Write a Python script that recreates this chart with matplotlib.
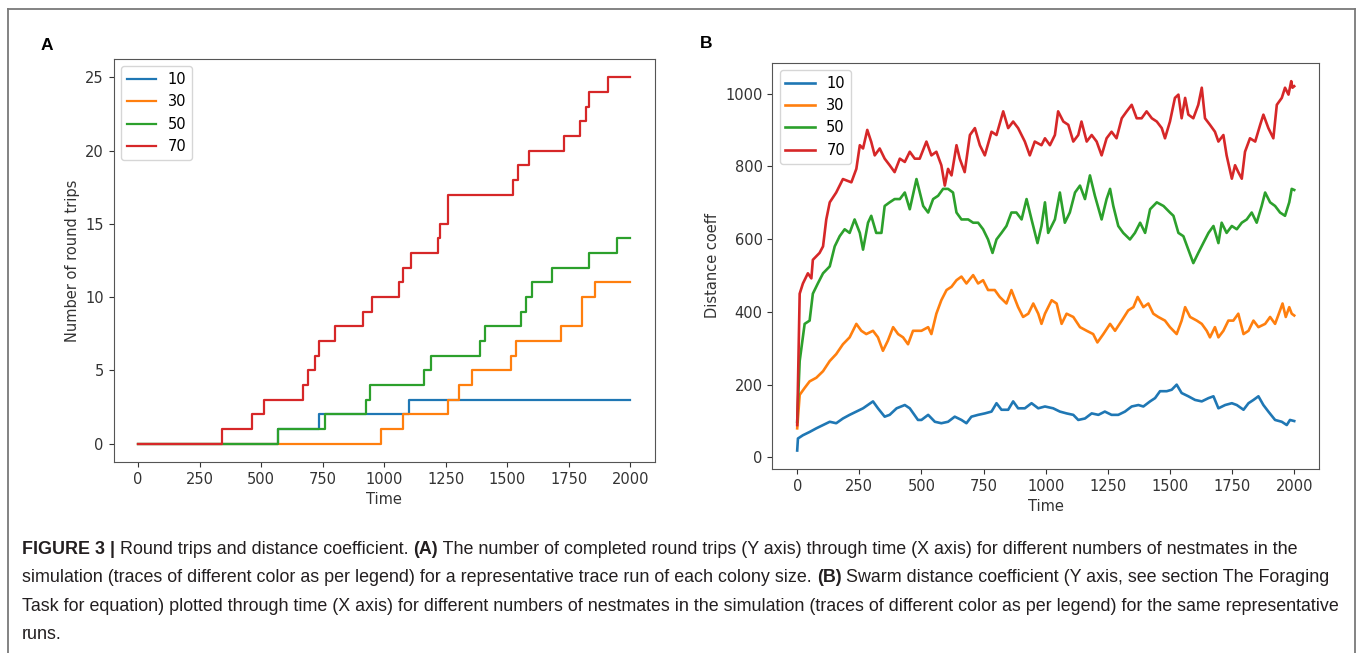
import matplotlib
matplotlib.use("Agg")
import matplotlib.pyplot as plt
from matplotlib.lines import Line2D

# ---- Panel A: round trips (step times and counts) ----
trips_10_t = [0, 570, 734, 1099, 2000]
trips_10_n = [0, 1, 2, 3, 3]
trips_30_t = [0, 988, 1075, 1260, 1304, 1357, 1516, 1534, 1719, 1804, 1855, 2000]
trips_30_n = [0, 1, 2, 3, 4, 5, 6, 7, 8, 10, 11, 11]
trips_50_t = [0, 568, 761, 928, 943, 1163, 1192, 1389, 1410, 1557, 1575, 1601,
              1684, 1834, 1945, 2000]
trips_50_n = [0, 1, 2, 3, 4, 5, 6, 7, 8, 9, 10, 11, 12, 13, 14, 14]
trips_70_t = [0, 342, 462, 512, 671, 692, 720, 734, 798, 913, 950, 1059, 1075,
              1108, 1220, 1227, 1260, 1523, 1545, 1587, 1730, 1797, 1820, 1834,
              1908, 2000]
trips_70_n = [0, 1, 2, 3, 4, 5, 6, 7, 8, 9, 10, 11, 12, 13, 14, 15, 17, 18, 19,
              20, 21, 22, 23, 24, 25, 25]

# ---- Panel B: distance coefficient (time, value) ----
dist_10_t = [0, 3, 23, 50, 77, 104, 131, 157, 184, 211, 238, 265, 305, 325, 352,
             372, 400, 433, 453, 486, 500, 527, 554, 580, 607, 634, 661, 681, 701,
             728, 755, 782, 802, 822, 849, 869, 889, 916, 943, 970, 997, 1030,
             1057, 1084, 1111, 1131, 1158, 1185, 1212, 1238, 1265, 1292, 1319,
             1346, 1373, 1393, 1420, 1440, 1460, 1487, 1507, 1527, 1547, 1574,
             1601, 1628, 1655, 1675, 1695, 1722, 1749, 1769, 1796, 1816, 1836,
             1856, 1876, 1896, 1923, 1950, 1970, 1983, 2000]
dist_10_v = [19, 52, 61, 70, 80, 89, 98, 94, 107, 117, 126, 135, 154, 135, 112,
             117, 135, 144, 135, 103, 103, 117, 98, 94, 98, 112, 103, 94, 112,
             117, 121, 126, 149, 131, 131, 154, 135, 135, 149, 135, 140, 135,
             126, 121, 117, 103, 107, 121, 117, 126, 117, 117, 126,
             140, 144, 140, 154, 163, 182, 182, 186, 200, 177, 168,
             158, 154, 163, 168, 135, 144, 149, 144, 131, 149, 158,
             168, 144, 126, 103, 98, 89, 103, 100]

dist_30_t = [0, 10, 30, 50, 77, 104, 131, 157, 184, 211, 238, 258, 278, 305, 325,
             345, 365, 386, 406, 426, 446, 466, 500, 527, 540, 560, 580, 601, 621,
             641, 661, 681, 708, 728, 748, 768, 795, 815, 842, 862, 889, 909, 930,
             950, 970, 983, 997, 1024, 1044, 1064, 1084, 1111, 1138, 1165, 1191,
             1208, 1232, 1259, 1279, 1306, 1332, 1353, 1370, 1393, 1413, 1433,
             1453, 1480, 1500, 1527, 1547, 1561, 1581, 1608, 1628, 1648, 1661,
             1681, 1695, 1715, 1735, 1755, 1775, 1796, 1816, 1836, 1856, 1883,
             1903, 1923, 1943, 1953, 1966, 1980, 1990, 2000]
dist_30_v = [80, 172, 191, 209, 219, 237, 265, 284, 311, 330, 367, 348, 339, 348,
             330, 293, 321, 358, 339, 330, 311, 348, 348, 358, 339, 395, 432, 460,
             469, 487, 497, 478, 501, 478, 487, 460, 460, 441, 423, 460, 413, 386,
             395, 423, 395, 367, 395, 432, 423, 367, 395, 386, 358, 348, 339,
             316, 339, 367, 348, 376, 404, 413, 441, 413, 423, 395,
             386, 376, 358, 339, 376, 413, 386, 376, 367, 348, 330,
             358, 330, 348, 376, 376, 395, 339, 348, 376, 358, 367,
             386, 367, 404, 423, 386, 413, 395, 390]

dist_50_t = [0, 10, 30, 50, 63, 83, 104, 131, 151, 171, 191, 211, 231, 252, 265,
             285, 298, 318, 339, 352, 372, 392, 413, 433, 453, 480, 507, 527, 547,
             567, 587, 607, 627, 641, 661, 688, 708, 728, 748, 768, 786, 802, 822,
             842, 862, 882, 903, 923, 943, 967, 983, 997, 1010, 1037, 1057, 1077,
             1097, 1118, 1138, 1158, 1178, 1198, 1225, 1245, 1259, 1272, 1292,
             1312, 1339, 1359, 1380, 1400, 1420, 1447, 1474, 1500, 1514, 1534,
             1554, 1574, 1594, 1614, 1634, 1655, 1675, 1695, 1708, 1728, 1749,
             1769, 1789, 1809, 1829, 1849, 1869, 1883, 1903, 1923, 1943, 1963,
             1980, 1990, 2000]
dist_50_v = [98, 265, 367, 376, 450, 478, 506, 525, 580, 608, 627, 617, 654, 617,
             571, 645, 664, 617, 617, 691, 701, 710, 710, 728, 682, 765, 691, 673,
             710, 719, 738, 738, 728, 673, 654, 654, 645, 645, 627, 599, 562, 599,
             617, 636, 673, 673, 654, 710, 654, 589, 636, 701, 617, 654, 728, 645,
             673, 728, 747, 710, 775, 719, 654, 710, 738, 691, 636,
             617, 599, 617, 645, 617, 682, 701, 691, 673, 664, 617,
             608, 571, 534, 562, 589, 617, 636, 589, 645, 617, 636,
             627, 645, 654, 673, 645, 691, 728, 701, 691, 673, 664,
             701, 738, 735]

dist_70_t = [0, 10, 23, 43, 57, 63, 90, 104, 117, 131, 157, 184, 218, 238, 252,
             265, 282, 298, 312, 332, 352, 372, 392, 413, 433, 453, 473, 493, 520,
             540, 560, 580, 594, 607, 621, 641, 654, 674, 695, 715, 735, 755, 782,
             802, 829, 849, 869, 889, 916, 936, 956, 983, 997, 1017, 1037, 1050,
             1071, 1091, 1111, 1131, 1144, 1165, 1185, 1205, 1225, 1245, 1265,
             1285, 1306, 1326, 1346, 1366, 1386, 1406, 1427, 1447, 1467, 1480,
             1500, 1520, 1534, 1547, 1561, 1574, 1594, 1614, 1628, 1641, 1661,
             1681, 1695, 1715, 1728, 1749, 1762, 1775, 1789, 1802, 1822, 1843,
             1863, 1876, 1896, 1916, 1930, 1950, 1963, 1977, 1988, 1993, 2000]
dist_70_v = [89, 450, 478, 506, 492, 543, 562, 580, 654, 701, 728, 765, 756, 793,
             858, 849, 900, 867, 830, 849, 821, 803, 784, 821, 812, 840, 821, 821,
             868, 830, 840, 803, 747, 793, 775, 858, 821, 784, 886, 905, 858, 830,
             895, 886, 951, 905, 923, 905, 868, 830, 868, 858, 877, 858, 886, 951,
             923, 914, 868, 886, 923, 868, 886, 868, 830, 877, 895,
             877, 932, 951, 969, 932, 932, 951, 932, 923, 905, 877,
             923, 988, 997, 932, 988, 942, 932, 969, 1016, 932, 914,
             895, 868, 886, 830, 766, 803, 784, 766, 840, 877, 868,
             914, 942, 905, 877, 969, 988, 1016, 997, 1034, 1016, 1020]

labels = ["10", "30", "50", "70"]
colors = ["#1f77b4", "#ff7f0e", "#2ca02c", "#d62728"]

tick_col = "#333333"
plt.rcParams["font.size"] = 10.5

fig = plt.figure(figsize=(13.6, 6.53), dpi=100)

# Panel A
axA = fig.add_axes([0.0835, 0.2925, 0.398, 0.6172])
for t, n, lab, c in zip([trips_10_t, trips_30_t, trips_50_t, trips_70_t],
                        [trips_10_n, trips_30_n, trips_50_n, trips_70_n],
                        labels, colors):
    axA.plot(t, n, drawstyle="steps-post", color=c, lw=1.6, label=lab)
axA.set_xlabel("Time", color=tick_col)
axA.set_ylabel("Number of round trips", color=tick_col)
axA.legend(loc="upper left")

# Panel B
axB = fig.add_axes([0.5679, 0.2818, 0.402, 0.6222])
for t, v, lab, c in zip([dist_10_t, dist_30_t, dist_50_t, dist_70_t],
                        [dist_10_v, dist_30_v, dist_50_v, dist_70_v],
                        labels, colors):
    axB.plot(t, v, color=c, lw=1.9, label=lab)
axB.set_xlabel("Time", color=tick_col)
axB.set_ylabel("Distance coeff", color=tick_col)
axB.legend(loc="upper left")

for ax in (axA, axB):
    ax.tick_params(colors=tick_col, labelcolor=tick_col)
    for s in ax.spines.values():
        s.set_color("#555555")

# panel letters
fig.text(47 / 1360, 1 - 45 / 653, "A", fontsize=12.5, fontweight="bold",
         family="Liberation Sans", ha="center", va="center")
fig.text(706 / 1360, 1 - 43 / 653, "B", fontsize=12.5, fontweight="bold",
         family="Liberation Sans", ha="center", va="center")

# outer frame of the figure box
for xs, ys in [([8, 8], [0, 644]), ([8, 1355], [644, 644]), ([1355, 1355], [0, 644])]:
    fig.add_artist(Line2D([x / 1360 for x in xs], [y / 653 for y in ys],
                          color="#7a7a7a", lw=1.3))

# caption
cap = fig.add_axes([0, 0, 1, 1])
cap.axis("off")
cap.set_zorder(-1)
caption = [
    [("FIGURE 3 | ", True), ("Round trips and distance coefficient. ", False), ("(A)", True),
     (" The number of completed round trips (Y axis) through time (X axis) for different numbers of nestmates in the", False)],
    [("simulation (traces of different color as per legend) for a representative trace run of each colony size. ", False),
     ("(B)", True), (" Swarm distance coefficient (Y axis, see section The Foraging", False)],
    [("Task for equation) plotted through time (X axis) for different numbers of nestmates in the simulation (traces of different color as per legend) for the same representative", False)],
    [("runs.", False)],
]
base = 653 - 554
for i, parts in enumerate(caption):
    prev = None
    for txt, bold in parts:
        kw = dict(fontsize=12.9, family="Liberation Sans", color="#231f20",
                  fontweight="bold" if bold else "normal")
        if prev is None:
            prev = cap.annotate(txt, xy=(22, base - i * 28.4), xycoords="figure pixels",
                                va="baseline", ha="left", **kw)
        else:
            prev = cap.annotate(txt, xy=(1, 0), xycoords=prev,
                                va="bottom", ha="left", **kw)

fig.savefig("out.png", dpi=100)
